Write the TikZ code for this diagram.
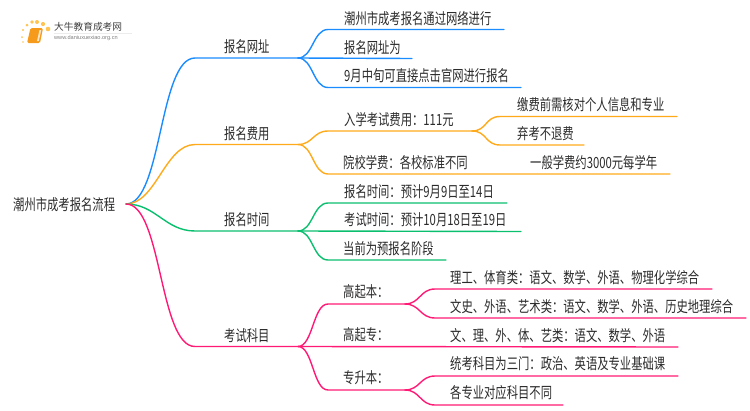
\documentclass[tikz,border=0pt]{standalone}
\usepackage{fontspec}
\setmainfont{Liberation Sans}
\newfontfamily\cjk[FakeStretch=0.735]{Noto Sans CJK SC}
\newfontfamily\cjklogo{Noto Sans CJK SC}
\definecolor{lineblue}{HTML}{1A8CFF}
\definecolor{lineorange}{HTML}{FFAA1A}
\definecolor{linegreen}{HTML}{0ABF6E}
\definecolor{linepink}{HTML}{FF1A75}
\definecolor{booktone}{HTML}{F59A1B}
\definecolor{suntone}{HTML}{FFC451}
\definecolor{texttone}{HTML}{2B2B2B}
\tikzset{
    txt/.style={anchor=west,inner sep=0pt,text=texttone,font=\cjk\fontsize{15.4}{17}\selectfont},
    edge/.style={line width=1.4pt,line cap=round},
    bend/.style={out=0,in=180,distance=#1},
    bend/.default=15pt
}
\begin{document}
\begin{tikzpicture}[x=1pt,y=-1pt]
    \useasboundingbox (0,0) rectangle (750,410);
    % logo
    \foreach \px/\py/\pr in {23/42/0.8,22/37/1,23/30/1.2,27/25/1.5,32/22/1.8,37/22/2,43/24/2.1,48/29/2.3}
        \fill[suntone] (\px,\py) circle (\pr);
    \fill[booktone,rounded corners=1.5pt] (30.5,28) -- (43,28) -- (40,43) -- (27,43) -- cycle;
    \fill[white!75!booktone] (39.5,30) -- (41.3,30) -- (38.8,41) -- (37,41) -- cycle;
    \draw[gray!15,line width=0.6pt] (54,33) -- (132,33);
    \node[anchor=west,inner sep=0pt,text=texttone!90] (logotitle) at (54,26.5) {\cjklogo\fontsize{9.7}{10}\selectfont 大牛教育成考网};
    \node[anchor=west,inner sep=0pt,text=gray] (logourl) at (54,38.5) {\fontsize{5.6}{6}\selectfont www.daniuxuexiao.org.cn};
    % root
    \node[txt] (root) at (13,205) {潮州市成考报名流程};
    \coordinate (r) at (126,204);
    % joints
    \coordinate (u) at (195,58);    \coordinate (uj) at (298,58);
    \coordinate (f) at (195,144.5); \coordinate (fj) at (298,144.5);
    \coordinate (t) at (195,231);   \coordinate (tj) at (298,231);
    \coordinate (s) at (195,346.5); \coordinate (sj) at (298,346.5);
    % first level
    \draw[edge,lineblue] (r) to[bend=36pt] (u) -- (uj);
    \draw[edge,lineorange] (r) to[bend=30pt] (f) -- (fj);
    \draw[edge,linegreen] (r) to[bend=30pt] (t) -- (tj);
    \draw[edge,linepink] (r) to[bend=36pt] (s) -- (sj);
    \node[txt] (urlbox) at (224,46.5) {报名网址};
    \node[txt] (feebox) at (224,133.5) {报名费用};
    \node[txt] (timebox) at (224,220) {报名时间};
    \node[txt] (subjbox) at (224,335.5) {考试科目};
    % second level, website
    \coordinate (u1) at (328,29.5); \coordinate (u1e) at (504,29.5);
    \coordinate (u2e) at (412,58.5);
    \coordinate (u3) at (328,87.5); \coordinate (u3e) at (521,87.5);
    \draw[edge,lineblue] (uj) to[bend] (u1) -- (u1e);
    \draw[edge,lineblue] (uj) -- (u2e);
    \draw[edge,lineblue] (uj) to[bend] (u3) -- (u3e);
    \node[txt] (u1t) at (344,18.5) {潮州市成考报名通过网络进行};
    \node[txt] (u2t) at (344,47.5) {报名网址为};
    \node[txt] (u3t) at (344,76) {9月中旬可直接点击官网进行报名};
    % second level, fee
    \coordinate (f1) at (328,131);   \coordinate (f1j) at (472,131);
    \coordinate (f2) at (328,174);   \coordinate (f2e) at (670,174);
    \coordinate (f11) at (500,116.5); \coordinate (f11e) at (677,116.5);
    \coordinate (f12) at (500,145);  \coordinate (f12e) at (584,145);
    \draw[edge,lineorange] (fj) to[bend] (f1) -- (f1j);
    \draw[edge,lineorange] (fj) to[bend] (f2) -- (f2e);
    \draw[edge,lineorange] (f1j) to[bend] (f11) -- (f11e);
    \draw[edge,lineorange] (f1j) to[bend] (f12) -- (f12e);
    \node[txt] (f1t) at (344,119.5) {入学考试费用：111元};
    \node[txt] (f2t) at (343,162.5) {院校学费：各校标准不同};
    \node[txt] (f11t) at (517,105) {缴费前需核对个人信息和专业};
    \node[txt] (f12t) at (517,133.5) {弃考不退费};
    \node[txt] (f21t) at (530,162.5) {一般学费约3000元每学年};
    % second level, time
    \coordinate (t1) at (328,203);   \coordinate (t1e) at (507,203);
    \coordinate (t2e) at (521,231.5);
    \coordinate (t3) at (328,260);   \coordinate (t3e) at (446,260);
    \draw[edge,linegreen] (tj) to[bend] (t1) -- (t1e);
    \draw[edge,linegreen] (tj) -- (t2e);
    \draw[edge,linegreen] (tj) to[bend] (t3) -- (t3e);
    \node[txt] (t1t) at (344,191.5) {报名时间：预计9月9日至14日};
    \node[txt] (t2t) at (344,220) {考试时间：预计10月18日至19日};
    \node[txt] (t3t) at (343,248.5) {当前为预报名阶段};
    % second level, subjects
    \coordinate (s1) at (328,304);   \coordinate (s1j) at (405,304);
    \coordinate (s2e) at (678,347);
    \coordinate (s3) at (328,390);   \coordinate (s3j) at (405,390);
    \coordinate (s11) at (435,289);  \coordinate (s11e) at (712,289);
    \coordinate (s12) at (435,318);  \coordinate (s12e) at (746,318);
    \coordinate (s31) at (435,376);  \coordinate (s31e) at (678,376);
    \coordinate (s32) at (435,405);  \coordinate (s32e) at (563,405);
    \draw[edge,linepink] (sj) to[bend] (s1) -- (s1j);
    \draw[edge,linepink] (sj) -- (s2e);
    \draw[edge,linepink] (sj) to[bend] (s3) -- (s3j);
    \draw[edge,linepink] (s1j) to[bend] (s11) -- (s11e);
    \draw[edge,linepink] (s1j) to[bend] (s12) -- (s12e);
    \draw[edge,linepink] (s3j) to[bend] (s31) -- (s31e);
    \draw[edge,linepink] (s3j) to[bend] (s32) -- (s32e);
    \node[txt] (s1t) at (343,292) {高起本：};
    \node[txt] (s2t) at (343,335) {高起专：};
    \node[txt] (s3t) at (343,378) {专升本：};
    \node[txt] (s11t) at (450,278) {理工、体育类：语文、数学、外语、物理化学综合};
    \node[txt] (s12t) at (450,307) {文史、外语、艺术类：语文、数学、外语、历史地理综合};
    \node[txt] (s21t) at (450,335.5) {文、理、外、体、艺类：语文、数学、外语};
    \node[txt] (s31t) at (450,364) {统考科目为三门：政治、英语及专业基础课};
    \node[txt] (s32t) at (450,393) {各专业对应科目不同};
\end{tikzpicture}
\end{document}
